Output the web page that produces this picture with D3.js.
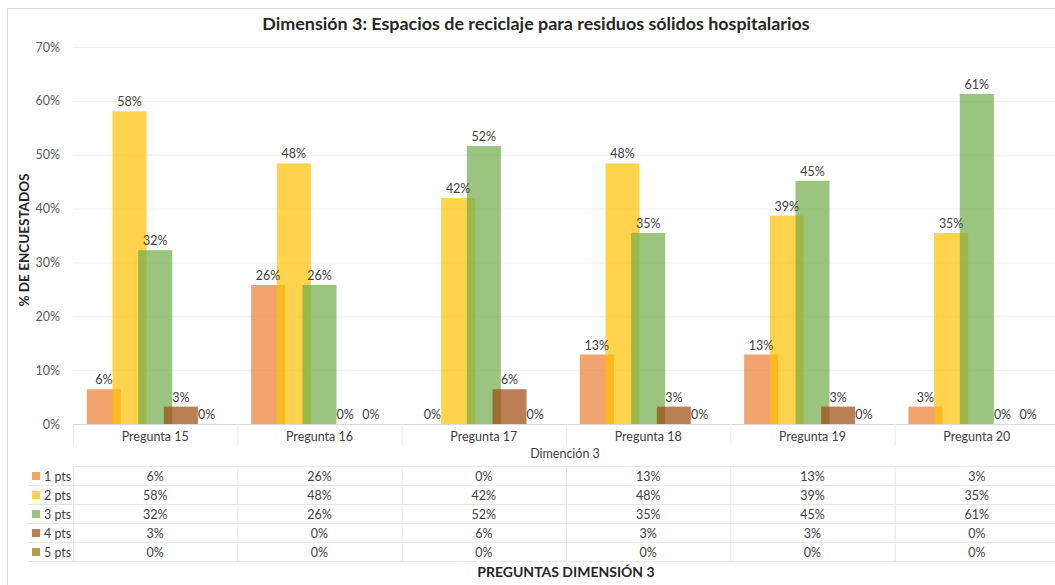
<!DOCTYPE html>
<html>
<head>
<meta charset="utf-8">
<script src="https://cdn.jsdelivr.net/npm/d3@7"></script>
<style>
  body { margin: 0; background: #fff; }
  text { font-family: Lato, "Open Sans", sans-serif; }
</style>
</head>
<body>
<script>
var width = 1055;
var height = 585;

// 31 encuestados, porcentajes por pregunta
var categories = ["Pregunta 15", "Pregunta 16", "Pregunta 17", "Pregunta 18", "Pregunta 19", "Pregunta 20"];
var seriesNames = ["1 pts", "2 pts", "3 pts", "4 pts", "5 pts"];
var pts1 = [6.45, 25.81, 0, 12.90, 12.90, 3.23];
var pts2 = [58.06, 48.39, 41.94, 48.39, 38.71, 35.48];
var pts3 = [32.26, 25.81, 51.61, 35.48, 45.16, 61.29];
var pts4 = [3.23, 0, 6.45, 3.23, 3.23, 0];
var pts5 = [0, 0, 0, 0, 0, 0];
var yTicks = [0, 10, 20, 30, 40, 50, 60, 70];
var colors = ["#ED7D31", "#FFC000", "#70AD47", "#9E480E", "#997300"];

var seriesValues = [pts1, pts2, pts3, pts4, pts5];

var margin = {left: 73, right: 1059, top: 47, bottom: 424};

var svg = d3.select("body").append("svg")
    .attr("width", width)
    .attr("height", height);

// chart frame
svg.append("rect")
    .attr("x", 7.5).attr("y", 8.5)
    .attr("width", 1060).attr("height", 600)
    .attr("fill", "none")
    .attr("stroke", "#D9D9D9");

var x = d3.scaleBand()
    .domain(categories)
    .range([margin.left, margin.right])
    .paddingInner(0).paddingOuter(0);

var y = d3.scaleLinear()
    .domain([0, 70])
    .range([margin.bottom, margin.top]);

// gridlines
svg.append("g").selectAll("line")
    .data(yTicks.slice(1))
    .enter().append("line")
    .attr("x1", margin.left).attr("x2", margin.right)
    .attr("y1", d => y(d) + 0.5).attr("y2", d => y(d) + 0.5)
    .attr("stroke", "#F0F0F0");

// y axis labels
var yAxis = d3.axisLeft(y)
    .tickValues(yTicks)
    .tickFormat(d => d + "%")
    .tickSize(0)
    .tickPadding(13);
var yg = svg.append("g")
    .attr("transform", "translate(" + margin.left + ",0)")
    .call(yAxis);
yg.select(".domain").remove();
yg.selectAll("text")
    .attr("font-family", "Lato, sans-serif")
    .attr("font-size", "12.5px")
    .attr("fill", "#595959");

// bars: Excel style overlap
var bw = x.bandwidth();
var barW = bw * 0.207;
var step = barW * 0.755;
var groupW = step * (seriesNames.length - 1) + barW;
var offset = (bw - groupW) / 2;

var fmt = d => Math.round(d) + "%";

seriesValues.forEach(function(vals, si) {
    var g = svg.append("g");
    g.selectAll("rect")
        .data(vals)
        .enter().append("rect")
        .attr("x", (d, i) => x(categories[i]) + offset + si * step)
        .attr("y", d => y(d))
        .attr("width", barW)
        .attr("height", d => y(0) - y(d))
        .attr("fill", colors[si])
        .attr("fill-opacity", 0.7);
});

seriesValues.forEach(function(vals, si) {
    svg.append("g").selectAll("text")
        .data(vals)
        .enter().append("text")
        .attr("x", (d, i) => x(categories[i]) + offset + si * step + barW / 2)
        .attr("y", d => y(d) - 5)
        .attr("text-anchor", "middle")
        .attr("font-size", "12.5px")
        .attr("fill", "#404040")
        .text(fmt);
});

// axis baseline
svg.append("line")
    .attr("x1", margin.left).attr("x2", margin.right)
    .attr("y1", y(0) + 0.5).attr("y2", y(0) + 0.5)
    .attr("stroke", "#D9D9D9");

// data table
var rowTop = 466.5;
var rowH = 19;
var legendLeft = 28;
var gridColor = "#E6E6E6";

// category labels row
svg.append("g").selectAll("text")
    .data(categories)
    .enter().append("text")
    .attr("x", d => x(d) + bw / 2)
    .attr("y", 440.5)
    .attr("text-anchor", "middle")
    .attr("font-size", "12.5px")
    .attr("fill", "#404040")
    .text(d => d);

svg.append("g").selectAll("line")
    .data(d3.range(categories.length + 1))
    .enter().append("line")
    .attr("x1", d => margin.left + d * bw + 0.5)
    .attr("x2", d => margin.left + d * bw + 0.5)
    .attr("y1", y(0))
    .attr("y2", 446)
    .attr("stroke", "#EDEDED");

svg.append("text")
    .attr("x", (margin.left + margin.right) / 2 - 1)
    .attr("y", 457.5)
    .attr("text-anchor", "middle")
    .attr("font-size", "12.5px")
    .attr("fill", "#404040")
    .text("Dimención 3");

// horizontal table lines
svg.append("g").selectAll("line")
    .data(d3.range(seriesNames.length + 1))
    .enter().append("line")
    .attr("x1", d => d == 0 ? margin.left : legendLeft)
    .attr("x2", margin.right)
    .attr("y1", d => rowTop + d * rowH)
    .attr("y2", d => rowTop + d * rowH)
    .attr("stroke", gridColor);

// vertical table lines
svg.append("g").selectAll("line")
    .data(d3.range(categories.length + 1))
    .enter().append("line")
    .attr("x1", d => margin.left + d * bw + 0.5)
    .attr("x2", d => margin.left + d * bw + 0.5)
    .attr("y1", rowTop)
    .attr("y2", rowTop + seriesNames.length * rowH)
    .attr("stroke", gridColor);

// legend keys + values
seriesNames.forEach(function(name, si) {
    var cy = rowTop + si * rowH + rowH / 2;
    svg.append("rect")
        .attr("x", 32).attr("y", cy - 4)
        .attr("width", 8).attr("height", 8)
        .attr("fill", colors[si])
        .attr("fill-opacity", 0.7);
    svg.append("text")
        .attr("x", 44).attr("y", cy + 4.5)
        .attr("font-size", "12.5px")
        .attr("fill", "#404040")
        .text(name);
    svg.append("g").selectAll("text")
        .data(seriesValues[si])
        .enter().append("text")
        .attr("x", (d, i) => x(categories[i]) + bw / 2)
        .attr("y", cy + 4.5)
        .attr("text-anchor", "middle")
        .attr("font-size", "12.5px")
        .attr("fill", "#404040")
        .text(fmt);
});

// titles
svg.append("text")
    .attr("x", 536).attr("y", 30)
    .attr("text-anchor", "middle")
    .attr("font-size", "17.9px")
    .attr("font-weight", "bold")
    .attr("fill", "#262626")
    .text("Dimensión 3: Espacios de reciclaje para residuos sólidos hospitalarios");

svg.append("text")
    .attr("transform", "translate(29,240) rotate(-90)")
    .attr("text-anchor", "middle")
    .attr("font-size", "13.5px")
    .attr("font-weight", "bold")
    .attr("fill", "#262626")
    .text("% DE ENCUESTADOS");

svg.append("text")
    .attr("x", 566).attr("y", 577)
    .attr("text-anchor", "middle")
    .attr("font-size", "14px")
    .attr("font-weight", "bold")
    .attr("fill", "#262626")
    .text("PREGUNTAS DIMENSIÓN 3");
</script>
</body>
</html>
